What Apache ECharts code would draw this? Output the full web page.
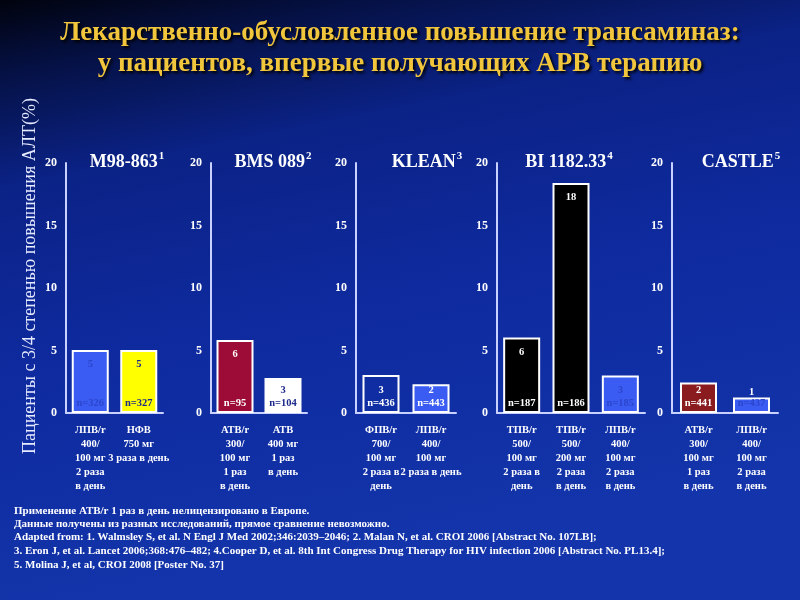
<!DOCTYPE html>
<html><head><meta charset="utf-8">
<script src="https://cdn.jsdelivr.net/npm/echarts@6/dist/echarts.min.js"></script>
<style>html,body{margin:0;padding:0;background:#000;}#c{width:800px;height:600px;}</style>
</head><body><div id="c"></div>
<script>
// ---- data ----
const titleLines = ['Лекарственно-обусловленное повышение трансаминаз:', 'у пациентов, впервые получающих АРВ терапию'];
const yAxisName = 'Пациенты с 3/4 степенью повышения АЛТ(%)';
const studies = ['M98-863', 'BMS 089', 'KLEAN', 'BI 1182.33', 'CASTLE'];
const studyRefs = ['1', '2', '3', '4', '5'];
const yTicks = [0, 5, 10, 15, 20];
const cats1 = ['ЛПВ/r\n400/\n100 мг\n2 раза\nв день', 'НФВ\n750 мг\n3 раза в день'];
const cats2 = ['АТВ/r\n300/\n100 мг\n1 раз\nв день', 'АТВ\n400 мг\n1 раз\nв день'];
const cats3 = ['ФПВ/r\n700/\n100 мг\n2 раза в\nдень', 'ЛПВ/r\n400/\n100 мг\n2 раза в день'];
const cats4 = ['ТПВ/r\n500/\n100 мг\n2 раза в\nдень', 'ТПВ/r\n500/\n200 мг\n2 раза\nв день', 'ЛПВ/r\n400/\n100 мг\n2 раза\nв день'];
const cats5 = ['АТВ/r\n300/\n100 мг\n1 раз\nв день', 'ЛПВ/r\n400/\n100 мг\n2 раза\nв день'];
const vals1 = [5.05, 5.05];
const vals2 = [5.85, 2.8];
const vals3 = [3.05, 2.3];
const vals4 = [6.05, 18.4, 3.0];
const vals5 = [2.45, 1.25];
const lab1 = ['5', '5'];
const lab2 = ['6', '3'];
const lab3 = ['3', '2'];
const lab4 = ['6', '18', '3'];
const lab5 = ['2', '1'];
const n1 = ['n=326', 'n=327'];
const n2 = ['n=95', 'n=104'];
const n3 = ['n=436', 'n=443'];
const n4 = ['n=187', 'n=186', 'n=185'];
const n5 = ['n=441', 'n=437'];
const footnotes = [
  'Применение АТВ/r 1 раз в день нелицензировано в Европе.',
  'Данные получены из разных исследований, прямое сравнение невозможно.',
  'Adapted from: 1. Walmsley S, et al. N Engl J Med 2002;346:2039–2046; 2. Malan N, et al. CROI 2006 [Abstract No. 107LB];',
  '3. Eron J, et al. Lancet 2006;368:476–482; 4.Cooper D, et al. 8th Int Congress Drug Therapy for HIV infection 2006 [Abstract No. PL13.4];',
  '5. Molina J, et al, CROI 2008 [Poster No. 37]'
];

// ---- styles ----
const cats = [cats1, cats2, cats3, cats4, cats5];
const vals = [vals1, vals2, vals3, vals4, vals5];
const labs = [lab1, lab2, lab3, lab4, lab5];
const ns = [n1, n2, n3, n4, n5];
const barColors = [['#3b5cf2', '#ffff00'], ['#9c0c36', '#ffffff'], ['rgba(0,0,0,0)', '#3b5cf2'], ['#000000', '#000000', '#3b5cf2'], ['#8a1b1e', '#3b5cf2']];
const textColors = [['#2b46cc', '#1c2a8a'], ['#ffffff', '#1c2a8a'], ['#ffffff', '#ffffff'], ['#ffffff', '#ffffff', '#2b46cc'], ['#ffffff', '#2b46cc']];
const lefts = [66, 211, 356, 497, 672];
const widths = [97, 96, 100, 148, 106];
const titleX = [127, 273, 427, 569, 741];
const SERIF = '"Liberation Serif","Times New Roman",serif';
const axisCol = '#c9d2ff';

const grids = [], xAxes = [], yAxes = [], series = [], graphics = [];
for (let p = 0; p < 5; p++) {
  grids.push({left: lefts[p], width: widths[p], top: 163, height: 250});
  xAxes.push({type: 'category', gridIndex: p, data: cats[p],
    axisLine: {lineStyle: {color: axisCol, width: 2}}, axisTick: {show: false},
    axisLabel: {interval: 0, color: '#ffffff', fontFamily: SERIF, fontWeight: 'bold', fontSize: 10.5, lineHeight: 14, margin: 10}});
  yAxes.push({type: 'value', gridIndex: p, min: 0, max: 20, interval: 5,
    axisLine: {show: true, lineStyle: {color: axisCol, width: 2}}, axisTick: {show: false}, splitLine: {show: false},
    axisLabel: {color: '#ffffff', fontFamily: SERIF, fontWeight: 'bold', fontSize: 12, margin: 9,
      formatter: v => yTicks.indexOf(v) >= 0 ? String(v) : ''}});
  const mainData = vals[p].map((v, i) => {
    const tall = v >= 4;
    const tiny = v < 1.6;
    return {value: v,
      itemStyle: {color: barColors[p][i]},
      label: {show: tall || tiny, position: tiny ? 'top' : 'insideTop', distance: tiny ? 0 : 9,
        formatter: labs[p][i], color: tiny ? '#ffffff' : textColors[p][i]}};
  });
  const overData = vals[p].map((v, i) => {
    const tall = v >= 4, tiny = v < 1.6;
    return {value: v,
      label: {formatter: (tall || tiny) ? ns[p][i] : labs[p][i] + '\n' + ns[p][i], color: textColors[p][i]}};
  });
  series.push({type: 'bar', xAxisIndex: p, yAxisIndex: p, barWidth: 37, data: mainData,
    itemStyle: {borderColor: '#ffffff', borderWidth: 2},
    label: {fontFamily: SERIF, fontWeight: 'bold', fontSize: 10.5},
    emphasis: {disabled: true}, animation: false});
  series.push({type: 'bar', xAxisIndex: p, yAxisIndex: p, barWidth: 37, barGap: '-100%', data: overData,
    itemStyle: {color: 'rgba(0,0,0,0)'}, z: 3,
    label: {show: true, position: 'insideBottom', distance: 3, fontFamily: SERIF, fontWeight: 'bold', fontSize: 10.5, lineHeight: 13},
    emphasis: {disabled: true}, animation: false});
  graphics.push({type: 'text', x: titleX[p], y: 162, style: {
    text: '{t|' + studies[p] + '}{s|' + studyRefs[p] + '}', textAlign: 'center', textVerticalAlign: 'middle',
    rich: {t: {fontFamily: SERIF, fontWeight: 'bold', fontSize: 18, fill: '#ffffff'},
           s: {fontFamily: SERIF, fontWeight: 'bold', fontSize: 11, fill: '#ffffff', verticalAlign: 'top', padding: [0, 0, 12, 1]}}}});
}
graphics.push({type: 'text', x: 400, y: 33, style: {text: titleLines[0], textAlign: 'center', textVerticalAlign: 'middle',
  font: 'bold 27px ' + SERIF, fill: '#f2c63c', textShadowColor: '#000000', textShadowBlur: 3, textShadowOffsetX: 2, textShadowOffsetY: 2}});
graphics.push({type: 'text', x: 400, y: 64, style: {text: titleLines[1], textAlign: 'center', textVerticalAlign: 'middle',
  font: 'bold 27px ' + SERIF, fill: '#f2c63c', textShadowColor: '#000000', textShadowBlur: 3, textShadowOffsetX: 2, textShadowOffsetY: 2}});
graphics.push({type: 'text', x: 30, y: 276, rotation: Math.PI / 2, style: {text: yAxisName, textAlign: 'center', textVerticalAlign: 'middle',
  font: '18px ' + SERIF, fill: '#e6eaff'}});
const footY = [511, 524, 537, 551, 565];
footnotes.forEach((t, i) => graphics.push({type: 'text', x: 14, y: footY[i], style: {text: t, textAlign: 'left', textVerticalAlign: 'middle',
  font: 'bold 11px ' + SERIF, fill: '#ffffff'}}));

const chart = echarts.init(document.getElementById('c'), null, {renderer: 'canvas'});
chart.setOption({
  animation: false,
  backgroundColor: {type: 'linear', x: 0, y: 0, x2: 0.15, y2: 1, colorStops: [
    {offset: 0, color: '#01030d'}, {offset: 0.12, color: '#051145'}, {offset: 0.3, color: '#0b2286'},
    {offset: 0.6, color: '#0e2a9e'}, {offset: 1, color: '#1334aa'}]},
  grid: grids, xAxis: xAxes, yAxis: yAxes, series: series, graphic: graphics
});
</script></body></html>
